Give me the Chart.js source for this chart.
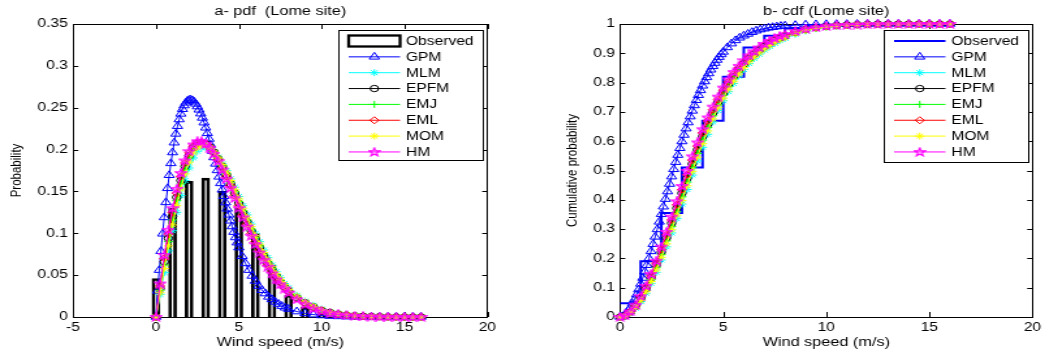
<!DOCTYPE html>
<html>
<head>
<meta charset="utf-8">
<script src="https://cdn.jsdelivr.net/npm/chart.js@4.4.1/dist/chart.umd.min.js"></script>
<style>
  html, body { margin: 0; padding: 0; background: #fff; }
  body { width: 1045px; height: 354px; position: relative; overflow: hidden; }
  canvas { position: absolute; top: 0; }
  #pdfChart { left: 0; }
  #cdfChart { left: 522px; }
</style>
</head>
<body>
<!-- the source picture is stretched sideways, so the canvases are drawn narrow and widened by css -->
<canvas id="pdfChart" width="402" height="354" style="width:522.6px;height:354px"></canvas>
<canvas id="cdfChart" width="402" height="354" style="width:522.6px;height:354px"></canvas>
<script>
// observed histogram (m/s bins)
const bins = [0, 1, 2, 3, 4, 5, 6, 7, 8, 9, 10];
const obsPdf = [0.046, 0.13, 0.162, 0.166, 0.15, 0.13, 0.1, 0.062, 0.026, 0.012, 0.004];
const stepX = [0, 1, 2, 3, 4, 5, 6, 7, 8, 9, 10, 11, 12, 13, 14, 15, 16];
const obsCdf = [0.047, 0.19, 0.355, 0.51, 0.67, 0.82, 0.92, 0.96, 0.985, 0.995, 1, 1, 1, 1, 1, 1, 1];

// GPM fit, sampled finer
const xGpm = [0, 0.1, 0.2, 0.3, 0.4, 0.5, 0.6, 0.7, 0.8, 0.9, 1, 1.1, 1.2, 1.3, 1.4, 1.5, 1.6, 1.7, 1.8, 1.9,
  2, 2.1, 2.2, 2.3, 2.4, 2.5, 2.6, 2.7, 2.8, 2.9, 3, 3.1, 3.2, 3.3, 3.4, 3.5, 3.6, 3.7, 3.8, 3.9,
  4, 4.1, 4.2, 4.3, 4.4, 4.5, 4.6, 4.7, 4.8, 4.9, 5, 5.2, 5.4, 5.6, 5.8, 6, 6.2, 6.4, 6.6, 6.8,
  7, 7.2, 7.4, 7.6, 7.8, 8, 8.5, 9, 9.5, 10, 10.5, 11, 11.5, 12, 12.5, 13, 13.5, 14, 14.5, 15, 15.5, 16];
const gpmPdf = [0, 0.0312, 0.0560, 0.0786, 0.0994, 0.1189, 0.1369, 0.1537, 0.1693, 0.1835, 0.1965, 0.2082, 0.2187, 0.2279, 0.2359, 0.2426, 0.2482, 0.2526, 0.2559, 0.2581,
  0.2592, 0.2595, 0.2587, 0.2571, 0.2546, 0.2514, 0.2475, 0.2429, 0.2378, 0.2321, 0.2260, 0.2194, 0.2126, 0.2055, 0.1981, 0.1905, 0.1829, 0.1751, 0.1674, 0.1596,
  0.1519, 0.1442, 0.1367, 0.1292, 0.1220, 0.1149, 0.1081, 0.1014, 0.0950, 0.0888, 0.0829, 0.0725, 0.064, 0.056, 0.049, 0.043, 0.037, 0.032, 0.028, 0.024,
  0.021, 0.018, 0.0155, 0.013, 0.011, 0.0095, 0.0065, 0.0043, 0.0028, 0.0018, 0.0011, 0.0007, 0.0004, 0.0002, 0.0001, 0.0001, 0, 0, 0, 0, 0, 0];
const gpmCdf = [0, 0.0017, 0.0061, 0.0128, 0.0217, 0.0327, 0.0455, 0.0600, 0.0762, 0.0938, 0.1128, 0.1331, 0.1544, 0.1768, 0.2000, 0.2239, 0.2484, 0.2735, 0.2989, 0.3247,
  0.3505, 0.3764, 0.4024, 0.4282, 0.4538, 0.4791, 0.5040, 0.5285, 0.5526, 0.5760, 0.5990, 0.6212, 0.6429, 0.6637, 0.6839, 0.7034, 0.7220, 0.7399, 0.7570, 0.7734,
  0.7890, 0.8038, 0.8178, 0.8311, 0.8437, 0.8555, 0.8667, 0.8771, 0.8869, 0.8961, 0.9047, 0.920, 0.933, 0.944, 0.953, 0.960, 0.966, 0.972, 0.977, 0.981,
  0.984, 0.987, 0.989, 0.991, 0.993, 0.994, 0.996, 0.9975, 0.9985, 0.999, 0.9994, 0.9996, 0.9998, 0.9999, 1, 1, 1, 1, 1, 1, 1, 1];

// the six close fits, left to right: HM, EML, EPFM, EMJ, MOM, MLM
const xFit = [0, 0.25, 0.5, 0.75, 1, 1.25, 1.5, 1.75, 2, 2.25, 2.5, 2.75, 3, 3.25, 3.5, 3.75, 4, 4.25, 4.5, 4.75,
  5, 5.25, 5.5, 5.75, 6, 6.25, 6.5, 6.75, 7, 7.25, 7.5, 7.75, 8, 8.5, 9, 9.5, 10, 10.5, 11, 11.5, 12, 12.5, 13, 13.5, 14, 14.5, 15, 15.5, 16];

const hmPdf = [0, 0.040, 0.074, 0.104, 0.130, 0.153, 0.172, 0.187, 0.198, 0.206, 0.210, 0.210, 0.207, 0.202, 0.195, 0.186, 0.176, 0.165, 0.154, 0.142,
  0.130, 0.119, 0.108, 0.097, 0.087, 0.077, 0.068, 0.060, 0.052, 0.045, 0.039, 0.034, 0.029, 0.021, 0.015, 0.010, 0.007, 0.0045, 0.003, 0.002, 0.0013, 0.0008, 0.0005, 0.0003, 0.0002, 0.0001, 0.0001, 0, 0];
const emlPdf = [0, 0.037, 0.070, 0.099, 0.125, 0.148, 0.168, 0.184, 0.196, 0.204, 0.208, 0.209, 0.207, 0.203, 0.196, 0.188, 0.178, 0.168, 0.157, 0.145,
  0.133, 0.122, 0.111, 0.100, 0.090, 0.080, 0.071, 0.062, 0.054, 0.047, 0.041, 0.035, 0.030, 0.022, 0.016, 0.011, 0.0075, 0.005, 0.0033, 0.0022, 0.0014, 0.0009, 0.0006, 0.0004, 0.0002, 0.0001, 0.0001, 0, 0];
const epfmPdf = [0, 0.034, 0.066, 0.094, 0.120, 0.143, 0.163, 0.180, 0.193, 0.202, 0.207, 0.208, 0.207, 0.203, 0.197, 0.189, 0.180, 0.170, 0.159, 0.148,
  0.136, 0.125, 0.114, 0.103, 0.093, 0.083, 0.073, 0.064, 0.056, 0.049, 0.042, 0.036, 0.031, 0.023, 0.017, 0.012, 0.008, 0.0055, 0.0036, 0.0024, 0.0015, 0.001, 0.0006, 0.0004, 0.0002, 0.0001, 0.0001, 0, 0];
const emjPdf = [0, 0.032, 0.062, 0.090, 0.116, 0.139, 0.159, 0.176, 0.190, 0.200, 0.205, 0.207, 0.206, 0.203, 0.198, 0.190, 0.181, 0.171, 0.161, 0.150,
  0.138, 0.127, 0.116, 0.105, 0.095, 0.085, 0.075, 0.066, 0.058, 0.050, 0.043, 0.037, 0.032, 0.024, 0.017, 0.012, 0.0085, 0.0058, 0.0038, 0.0025, 0.0016, 0.001, 0.0006, 0.0004, 0.0002, 0.0001, 0.0001, 0, 0];
const momPdf = [0, 0.029, 0.058, 0.085, 0.110, 0.133, 0.153, 0.171, 0.185, 0.196, 0.202, 0.205, 0.205, 0.202, 0.197, 0.190, 0.182, 0.173, 0.163, 0.152,
  0.141, 0.130, 0.119, 0.108, 0.097, 0.087, 0.077, 0.068, 0.060, 0.052, 0.045, 0.039, 0.033, 0.025, 0.018, 0.013, 0.009, 0.006, 0.004, 0.0027, 0.0017, 0.0011, 0.0007, 0.0004, 0.0002, 0.0001, 0.0001, 0, 0];
const mlmPdf = [0, 0.027, 0.053, 0.079, 0.103, 0.125, 0.145, 0.163, 0.178, 0.190, 0.198, 0.202, 0.203, 0.201, 0.197, 0.191, 0.183, 0.175, 0.165, 0.155,
  0.144, 0.133, 0.122, 0.111, 0.100, 0.090, 0.080, 0.071, 0.062, 0.054, 0.047, 0.040, 0.035, 0.026, 0.019, 0.014, 0.0095, 0.0065, 0.0043, 0.0028, 0.0018, 0.0012, 0.0007, 0.0005, 0.0003, 0.0002, 0.0001, 0, 0];

const hmCdf = [0, 0.0053, 0.0195, 0.0417, 0.0709, 0.1063, 0.1469, 0.1918, 0.2400, 0.2905, 0.3425, 0.3950, 0.4473, 0.4986, 0.5483, 0.5959, 0.6409, 0.681, 0.718, 0.752,
  0.783, 0.811, 0.836, 0.857, 0.876, 0.893, 0.907, 0.920, 0.932, 0.942, 0.951, 0.959, 0.965, 0.976, 0.984, 0.989, 0.993, 0.9955, 0.997, 0.998, 0.9988, 0.9993, 0.9996, 0.9998, 0.9999, 1, 1, 1, 1];
const emlCdf = [0, 0.0049, 0.0183, 0.0394, 0.0672, 0.1012, 0.1404, 0.1840, 0.2309, 0.2803, 0.3314, 0.3831, 0.4349, 0.4859, 0.5355, 0.5832, 0.6285, 0.6695, 0.7075, 0.7426,
  0.7740, 0.8026, 0.8282, 0.8500, 0.8698, 0.8874, 0.9020, 0.9154, 0.9278, 0.9382, 0.9476, 0.9558, 0.9622, 0.9738, 0.9824, 0.9880, 0.9922, 0.9950, 0.9967, 0.9978, 0.9986, 0.9992, 0.9995, 0.9998, 0.9999, 1, 1, 1, 1];
const epfmCdf = [0, 0.0045, 0.0171, 0.0370, 0.0636, 0.0962, 0.1340, 0.1761, 0.2218, 0.2701, 0.3202, 0.3713, 0.4225, 0.4732, 0.5228, 0.5706, 0.6162, 0.6580, 0.6970, 0.7331,
  0.7650, 0.7942, 0.8204, 0.8430, 0.8636, 0.8818, 0.8970, 0.9108, 0.9236, 0.9344, 0.9442, 0.9526, 0.9594, 0.9716, 0.9808, 0.9870, 0.9914, 0.9945, 0.9964, 0.9976, 0.9985, 0.9991, 0.9995, 0.9997, 0.9999, 1, 1, 1, 1];
const emjCdf = [0, 0.0042, 0.0158, 0.0347, 0.0599, 0.0911, 0.1275, 0.1683, 0.2128, 0.2599, 0.3091, 0.3594, 0.4102, 0.4606, 0.5100, 0.5579, 0.6038, 0.6465, 0.6865, 0.7237,
  0.7560, 0.7858, 0.8126, 0.8360, 0.8574, 0.8762, 0.8920, 0.9062, 0.9194, 0.9306, 0.9408, 0.9494, 0.9566, 0.9694, 0.9792, 0.9860, 0.9906, 0.9940, 0.9961, 0.9974, 0.9983, 0.9990, 0.9994, 0.9997, 0.9999, 1, 1, 1, 1];
const momCdf = [0, 0.0038, 0.0146, 0.0323, 0.0563, 0.0861, 0.1211, 0.1604, 0.2037, 0.2497, 0.2979, 0.3476, 0.3978, 0.4479, 0.4973, 0.5453, 0.5915, 0.6350, 0.6760, 0.7142,
  0.7470, 0.7774, 0.8048, 0.8290, 0.8512, 0.8706, 0.8870, 0.9016, 0.9152, 0.9268, 0.9374, 0.9462, 0.9538, 0.9672, 0.9776, 0.9850, 0.9898, 0.9935, 0.9958, 0.9972, 0.9982, 0.9989, 0.9994, 0.9997, 0.9998, 0.9999, 1, 1, 1];
const mlmCdf = [0, 0.0034, 0.0134, 0.0300, 0.0526, 0.0810, 0.1146, 0.1526, 0.1946, 0.2395, 0.2868, 0.3357, 0.3854, 0.4352, 0.4845, 0.5326, 0.5791, 0.6235, 0.6655, 0.7048,
  0.738, 0.769, 0.797, 0.822, 0.845, 0.865, 0.882, 0.897, 0.911, 0.923, 0.934, 0.943, 0.951, 0.965, 0.976, 0.984, 0.989, 0.993, 0.9955, 0.997, 0.998, 0.9988, 0.9993, 0.9996, 0.9998, 0.9999, 1, 1, 1];

const FONT = '"Liberation Sans", Arial, sans-serif';

function pentagram(color) {
  const c = document.createElement('canvas');
  c.width = 10; c.height = 10;
  const g = c.getContext('2d');
  g.beginPath();
  for (let i = 0; i < 10; i++) {
    const a = -Math.PI / 2 + i * Math.PI / 5;
    const r = i % 2 ? 1.8 : 4.4;
    g.lineTo(5 + r * Math.cos(a), 5.3 + r * Math.sin(a));
  }
  g.closePath();
  g.strokeStyle = color;
  g.lineWidth = 1.2;
  g.stroke();
  return c;
}

function pts(xs, ys) {
  return xs.map((x, i) => ({ x: x, y: ys[i] }));
}

function fitSet(label, xs, ys, color, style, radius, order) {
  return {
    label: label, data: pts(xs, ys), borderColor: color, borderWidth: 1,
    pointStyle: style, pointRadius: radius, pointBorderColor: color,
    pointBackgroundColor: 'rgba(0,0,0,0)', pointBorderWidth: 1,
    fill: false, tension: 0, clip: false, order: order
  };
}

// box with inward ticks on all four sides
const framePlugin = {
  id: 'frame',
  beforeDatasetsDraw(chart) {
    const { ctx, chartArea: a, scales: { x, y } } = chart;
    ctx.save();
    ctx.strokeStyle = '#000';
    ctx.lineWidth = 1;
    ctx.strokeRect(Math.round(a.left) + 0.5, Math.round(a.top) + 0.5, Math.round(a.right - a.left), Math.round(a.bottom - a.top));
    ctx.beginPath();
    x.ticks.forEach(t => {
      const px = Math.round(x.getPixelForValue(t.value)) + 0.5;
      ctx.moveTo(px, a.bottom); ctx.lineTo(px, a.bottom - 5);
      ctx.moveTo(px, a.top); ctx.lineTo(px, a.top + 5);
    });
    y.ticks.forEach(t => {
      const py = Math.round(y.getPixelForValue(t.value)) + 0.5;
      ctx.moveTo(a.left, py); ctx.lineTo(a.left + 4, py);
      ctx.moveTo(a.right, py); ctx.lineTo(a.right - 4, py);
    });
    ctx.stroke();
    ctx.restore();
  }
};

const legendPlugin = {
  id: 'boxLegend',
  afterDraw(chart, args, o) {
    const ctx = chart.ctx, a = chart.chartArea;
    const x0 = Math.round(a.right - o.inset - o.width) + 0.5;
    const y0 = Math.round(a.top + 6) + 0.5;
    ctx.save();
    ctx.fillStyle = '#fff';
    ctx.fillRect(x0, y0, o.width, o.height);
    ctx.strokeStyle = '#000';
    ctx.lineWidth = 1;
    ctx.strokeRect(x0, y0, o.width, o.height);
    ctx.font = '12px ' + FONT;
    ctx.textBaseline = 'middle';
    ctx.textAlign = 'left';
    chart.data.datasets.forEach((ds, i) => {
      const cy = y0 + 10.5 + i * 15.85;
      const xa = x0 + 7.5, xb = x0 + 47;
      if (ds.type === 'bar') {
        ctx.strokeStyle = '#000';
        ctx.lineWidth = 2.3;
        ctx.strokeRect(xa, cy - 5.5, xb - xa, 11);
      } else {
        ctx.strokeStyle = ds.borderColor;
        ctx.lineWidth = ds.borderWidth;
        ctx.beginPath();
        ctx.moveTo(xa, cy); ctx.lineTo(xb, cy);
        ctx.stroke();
        if (ds.pointRadius > 0) {
          ctx.lineWidth = 1;
          ctx.fillStyle = 'rgba(0,0,0,0)';
          Chart.helpers.drawPoint(ctx, { pointStyle: ds.pointStyle, rotation: 0, radius: ds.pointRadius, borderWidth: 1 }, (xa + xb) / 2, cy);
        }
      }
      ctx.fillStyle = '#000';
      ctx.fillText(ds.label, x0 + 51.5, cy + 0.5);
    });
    ctx.restore();
  }
};

function tickText(v) {
  return String(Number(v.toFixed(2)));
}

function makeChart(id, c) {
  return new Chart(document.getElementById(id), {
    type: 'line',
    data: { datasets: c.datasets },
    options: {
      responsive: false,
      animation: false,
      events: [],
      layout: { padding: { left: 0, right: c.padRight, top: 0, bottom: 0 } },
      plugins: {
        legend: { display: false },
        tooltip: { enabled: false },
        title: {
          display: true, fullSize: false, text: c.title, color: '#000',
          font: { family: FONT, size: 12.5, weight: 'normal' },
          padding: { top: 4, bottom: 5 }
        },
        boxLegend: { width: 111, height: c.legendH, inset: 3.5 }
      },
      scales: {
        x: {
          type: 'linear', min: c.xMin, max: 20, offset: false,
          grid: { display: false, drawTicks: false, tickLength: 0, offset: false }, border: { display: false },
          ticks: { stepSize: 5, color: '#000', padding: 3, maxRotation: 0, font: { family: FONT, size: 12 }, callback: tickText },
          title: { display: true, text: 'Wind speed (m/s)', color: '#000', font: { family: FONT, size: 12.5 }, padding: { top: 0, bottom: 4 } },
          afterFit: s => { s.height = 37; }
        },
        y: {
          min: 0, max: c.yMax,
          grid: { display: false, drawTicks: false, tickLength: 0 }, border: { display: false },
          ticks: { stepSize: c.yStep, color: '#000', padding: 4, font: { family: FONT, size: 12 }, callback: tickText },
          title: { display: true, text: c.yTitle, color: '#000', font: { family: FONT, size: 11.5 }, padding: { top: c.yTitlePad, bottom: 0 } },
          afterFit: s => { s.width = c.yWidth; }
        }
      }
    },
    plugins: [framePlugin, legendPlugin]
  });
}

const hmMark = pentagram('#ff00ff');

makeChart('pdfChart', {
  title: 'a- pdf  (Lome site)', xMin: -5, yMax: 0.35, yStep: 0.05,
  yTitle: 'Probability', yTitlePad: 6.2, yWidth: 56.2, padRight: 27.4, legendH: 130,
  datasets: [
    { type: 'bar', label: 'Observed', data: pts(bins, obsPdf), backgroundColor: '#fff', borderColor: '#000',
      borderWidth: 2.7, barThickness: 6, order: 8 },
    fitSet('GPM', xGpm, gpmPdf, '#0000ff', 'triangle', 4.5, 7),
    fitSet('MLM', xFit, mlmPdf, '#00ffff', 'star', 3.5, 6),
    fitSet('EPFM', xFit, epfmPdf, '#000000', 'circle', 3.2, 5),
    fitSet('EMJ', xFit, emjPdf, '#00ff00', 'cross', 3.5, 4),
    fitSet('EML', xFit, emlPdf, '#ff0000', 'rectRot', 3.5, 3),
    fitSet('MOM', xFit, momPdf, '#ffff00', 'star', 3.5, 2),
    fitSet('HM', xFit, hmPdf, '#ff00ff', hmMark, 4, 1)
  ]
});

makeChart('cdfChart', {
  title: 'b- cdf (Lome site)', xMin: 0, yMax: 1, yStep: 0.1,
  yTitle: 'Cumulative probability', yTitlePad: 32.3, yWidth: 75.4, padRight: 9.7, legendH: 132,
  datasets: [
    { label: 'Observed', data: pts(stepX, obsCdf), borderColor: '#0000ff', borderWidth: 2, pointRadius: 0,
      stepped: 'before', fill: false, order: 8 },
    fitSet('GPM', xGpm, gpmCdf, '#0000ff', 'triangle', 4.5, 7),
    fitSet('MLM', xFit, mlmCdf, '#00ffff', 'star', 3.5, 6),
    fitSet('EPFM', xFit, epfmCdf, '#000000', 'circle', 3.2, 5),
    fitSet('EMJ', xFit, emjCdf, '#00ff00', 'cross', 3.5, 4),
    fitSet('EML', xFit, emlCdf, '#ff0000', 'rectRot', 3.5, 3),
    fitSet('MOM', xFit, momCdf, '#ffff00', 'star', 3.5, 2),
    fitSet('HM', xFit, hmCdf, '#ff00ff', hmMark, 4, 1)
  ]
});
</script>
</body>
</html>
